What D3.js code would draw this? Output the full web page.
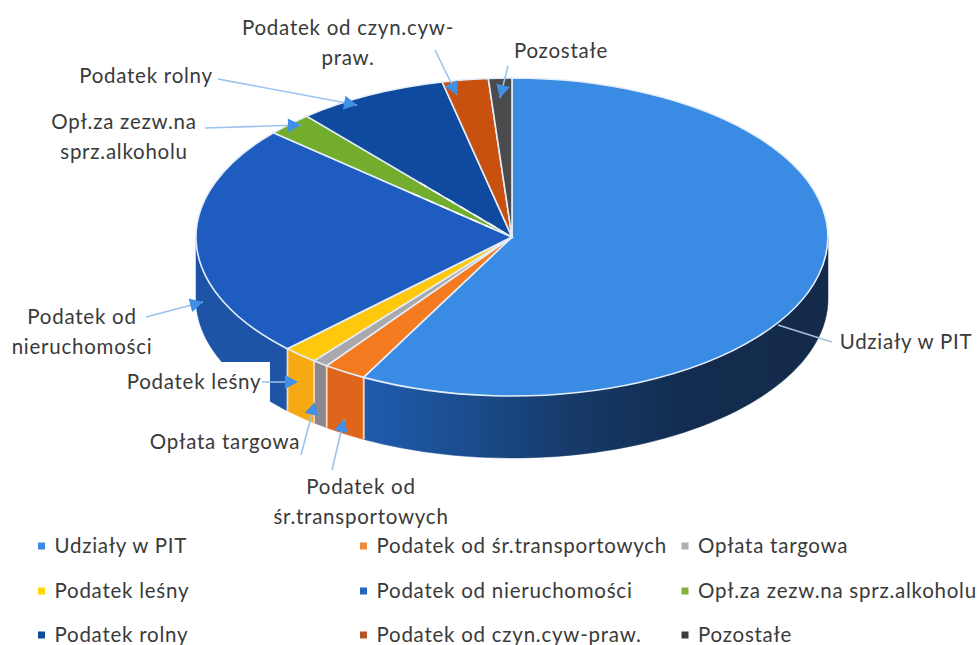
<!DOCTYPE html>
<html><head><meta charset="utf-8">
<script src="https://cdn.jsdelivr.net/npm/d3@7"></script>
<style>html,body{margin:0;padding:0;background:#fff}svg{display:block}text{font-family:Lato,"Open Sans",sans-serif;fill:#3a3a3a;letter-spacing:.75px}</style>
</head><body><svg id="c" width="977" height="645"></svg>
<script>
const categories = ["Udziały w PIT","Podatek od śr.transportowych","Opłata targowa","Podatek leśny","Podatek od nieruchomości","Opł.za zezw.na sprz.alkoholu","Podatek rolny","Podatek od czyn.cyw-praw.","Pozostałe"];
const values = [57.75,2.2,0.8,1.8,23.8,2.35,7.7,2.35,1.2];
const topColors = ["#3a8be3","#f57b20","#a9a9ad","#ffc80d","#1f5cbf","#72ad2e","#0f4a9e","#c9510f","#4b4b4d"];
const sideColors = ["url(#g0)","#e0651c","#8b878c","#f6a912","#1d54a6","#5d8f25","#0c3d84","#a8430c","#3c3c3e"];
const legendColors = ["#3a8be3","#f08a3c","#b0b0b0","#ffd60a","#2466bf","#86b03c","#0f4a9e","#b0562a","#3a3a3a"];

// annotation layout: one entry per slice (text lines, text anchor and baseline, box, leader)
const annotations = [
 {lines:["Udziały w PIT"],x:906,y:[349],box:[836,325,141,36],from:[832,342],to:[778,325],head:false},
 {lines:["Podatek od","śr.transportowych"],x:361,y:[494,524],box:[262,470,198,64],from:[332,470],to:[344,419],head:true},
 {lines:["Opłata targowa"],x:225,y:[449],box:[142,424,162,36],from:[301,455],to:[315,402],head:true},
 {lines:["Podatek leśny"],x:194,y:[389],box:[120,362,150,40],from:[262,382],to:[298,382],head:true},
 {lines:["Podatek od","nieruchomości"],x:82,y:[324,354],box:[8,300,150,62],from:[146,317],to:[203,302],head:true},
 {lines:["Opł.za zezw.na","sprz.alkoholu"],x:124,y:[129,159],box:[44,104,160,64],from:[205,128],to:[301,125],head:true},
 {lines:["Podatek rolny"],x:146,y:[83],box:[70,58,150,34],from:[218,79],to:[357,105],head:true},
 {lines:["Podatek od czyn.cyw-","praw."],x:348,y:[35,65],box:[234,8,228,66],from:[435,50],to:[457,95],head:true},
 {lines:["Pozostałe"],x:561,y:[58],box:[508,32,106,34],from:[508,66],to:[500,98],head:true}
];
const legendCols = [41.5,363.5,685];
const legendRows = [546,591,635];
const fontSize = 20.5;

const svg = d3.select("#c");
const cx=512, cy=237, rx=316, ry=159, depth=62;
const xS = d3.scaleLinear().domain([-1,1]).range([cx-rx,cx+rx]);
const yS = d3.scaleLinear().domain([-1,1]).range([cy-ry,cy+ry]);
const px = a=>xS(Math.sin(a)), py = a=>yS(-Math.cos(a));

const defs = svg.append("defs");
const g0 = defs.append("linearGradient").attr("id","g0").attr("gradientUnits","userSpaceOnUse")
 .attr("x1",365).attr("x2",828).attr("y1",0).attr("y2",0);
[[0,"#1f5bae"],[0.2,"#1b4e90"],[0.45,"#163a68"],[0.7,"#132c4f"],[1,"#132a4a"]].forEach(s=>g0.append("stop").attr("offset",s[0]).attr("stop-color",s[1]));

const arcs = d3.pie().sort(null).value(d=>d)(values);
const lineGen = d3.line().x(d=>d[0]).y(d=>d[1]);
const sampled = (a0,a1)=>d3.range(0,61).map(i=>a0+(a1-a0)*i/60);

// outer walls: visible front half only
const sides = svg.append("g");
arcs.forEach((d,i)=>{
  const a0=Math.max(d.startAngle,Math.PI/2), a1=Math.min(d.endAngle,Math.PI*1.5);
  if(a1<=a0) return;
  const as=sampled(a0,a1);
  const pts=as.map(a=>[px(a),py(a)]).concat(as.slice().reverse().map(a=>[px(a),py(a)+depth]));
  sides.append("path").attr("d",lineGen(pts)+"Z").attr("fill",sideColors[i]).attr("stroke",sideColors[i]).attr("stroke-width",.5);
  [d.startAngle,d.endAngle].forEach(a=>{
    if(a>Math.PI/2 && a<Math.PI*1.5){
      sides.append("path").attr("d",lineGen([[px(a),py(a)],[px(a),py(a)+depth]])).attr("stroke","#f7d9bd").attr("stroke-width",1.6).attr("fill","none");
    }
  });
});

// top face
const topFace = svg.append("g");
const arc = d3.arc().innerRadius(0).outerRadius(1);
topFace.selectAll("path").data(arcs).join("path")
 .attr("transform",`translate(${cx},${cy}) scale(${rx},${ry})`)
 .attr("d",arc).attr("fill",(d,i)=>topColors[i])
 .attr("stroke","#e4eefa").attr("stroke-width",1.6).attr("vector-effect","non-scaling-stroke");

// scan artefacts along the small green slice
[arcs[5].startAngle,arcs[5].endAngle].forEach(a=>{
  const p=f=>[cx+(px(a)-cx)*f, cy+(py(a)-cy)*f];
  topFace.append("path").attr("d",lineGen([p(.08),p(.45)])).attr("stroke","#fff").attr("stroke-width",1.5).attr("stroke-dasharray","9 7").attr("fill","none");
});

// annotations
const ann = svg.append("g");
annotations.forEach(a=>{
  ann.append("rect").attr("x",a.box[0]).attr("y",a.box[1]).attr("width",a.box[2]).attr("height",a.box[3]).attr("fill","#fff");
});
annotations.forEach(a=>{
  ann.append("path").attr("d",lineGen([a.from,a.to])).attr("stroke",a.head?"#9cc3ec":"#a8c0dc").attr("stroke-width",1.6).attr("fill","none");
  if(a.head){
    const dx=a.to[0]-a.from[0],dy=a.to[1]-a.from[1],L=Math.hypot(dx,dy),ux=dx/L,uy=dy/L,h=13,w=7;
    ann.append("path").attr("d",lineGen([a.to,[a.to[0]-ux*h-uy*w,a.to[1]-uy*h+ux*w],[a.to[0]-ux*h+uy*w,a.to[1]-uy*h-ux*w]])+"Z").attr("fill","#3f90e6");
  }
  a.lines.forEach((t,i)=>ann.append("text").attr("x",a.x).attr("y",a.y[i]).attr("text-anchor","middle").attr("font-size",fontSize).text(t));
});

// legend
const leg = svg.append("g");
categories.forEach((c,i)=>{
  const col=legendCols[i%3], row=legendRows[Math.floor(i/3)];
  leg.append("rect").attr("x",col-3.5).attr("y",row-3.5).attr("width",7).attr("height",7).attr("fill",legendColors[i]);
  leg.append("text").attr("x",col+13).attr("y",row+7).attr("font-size",fontSize).text(c);
});
</script></body></html>
